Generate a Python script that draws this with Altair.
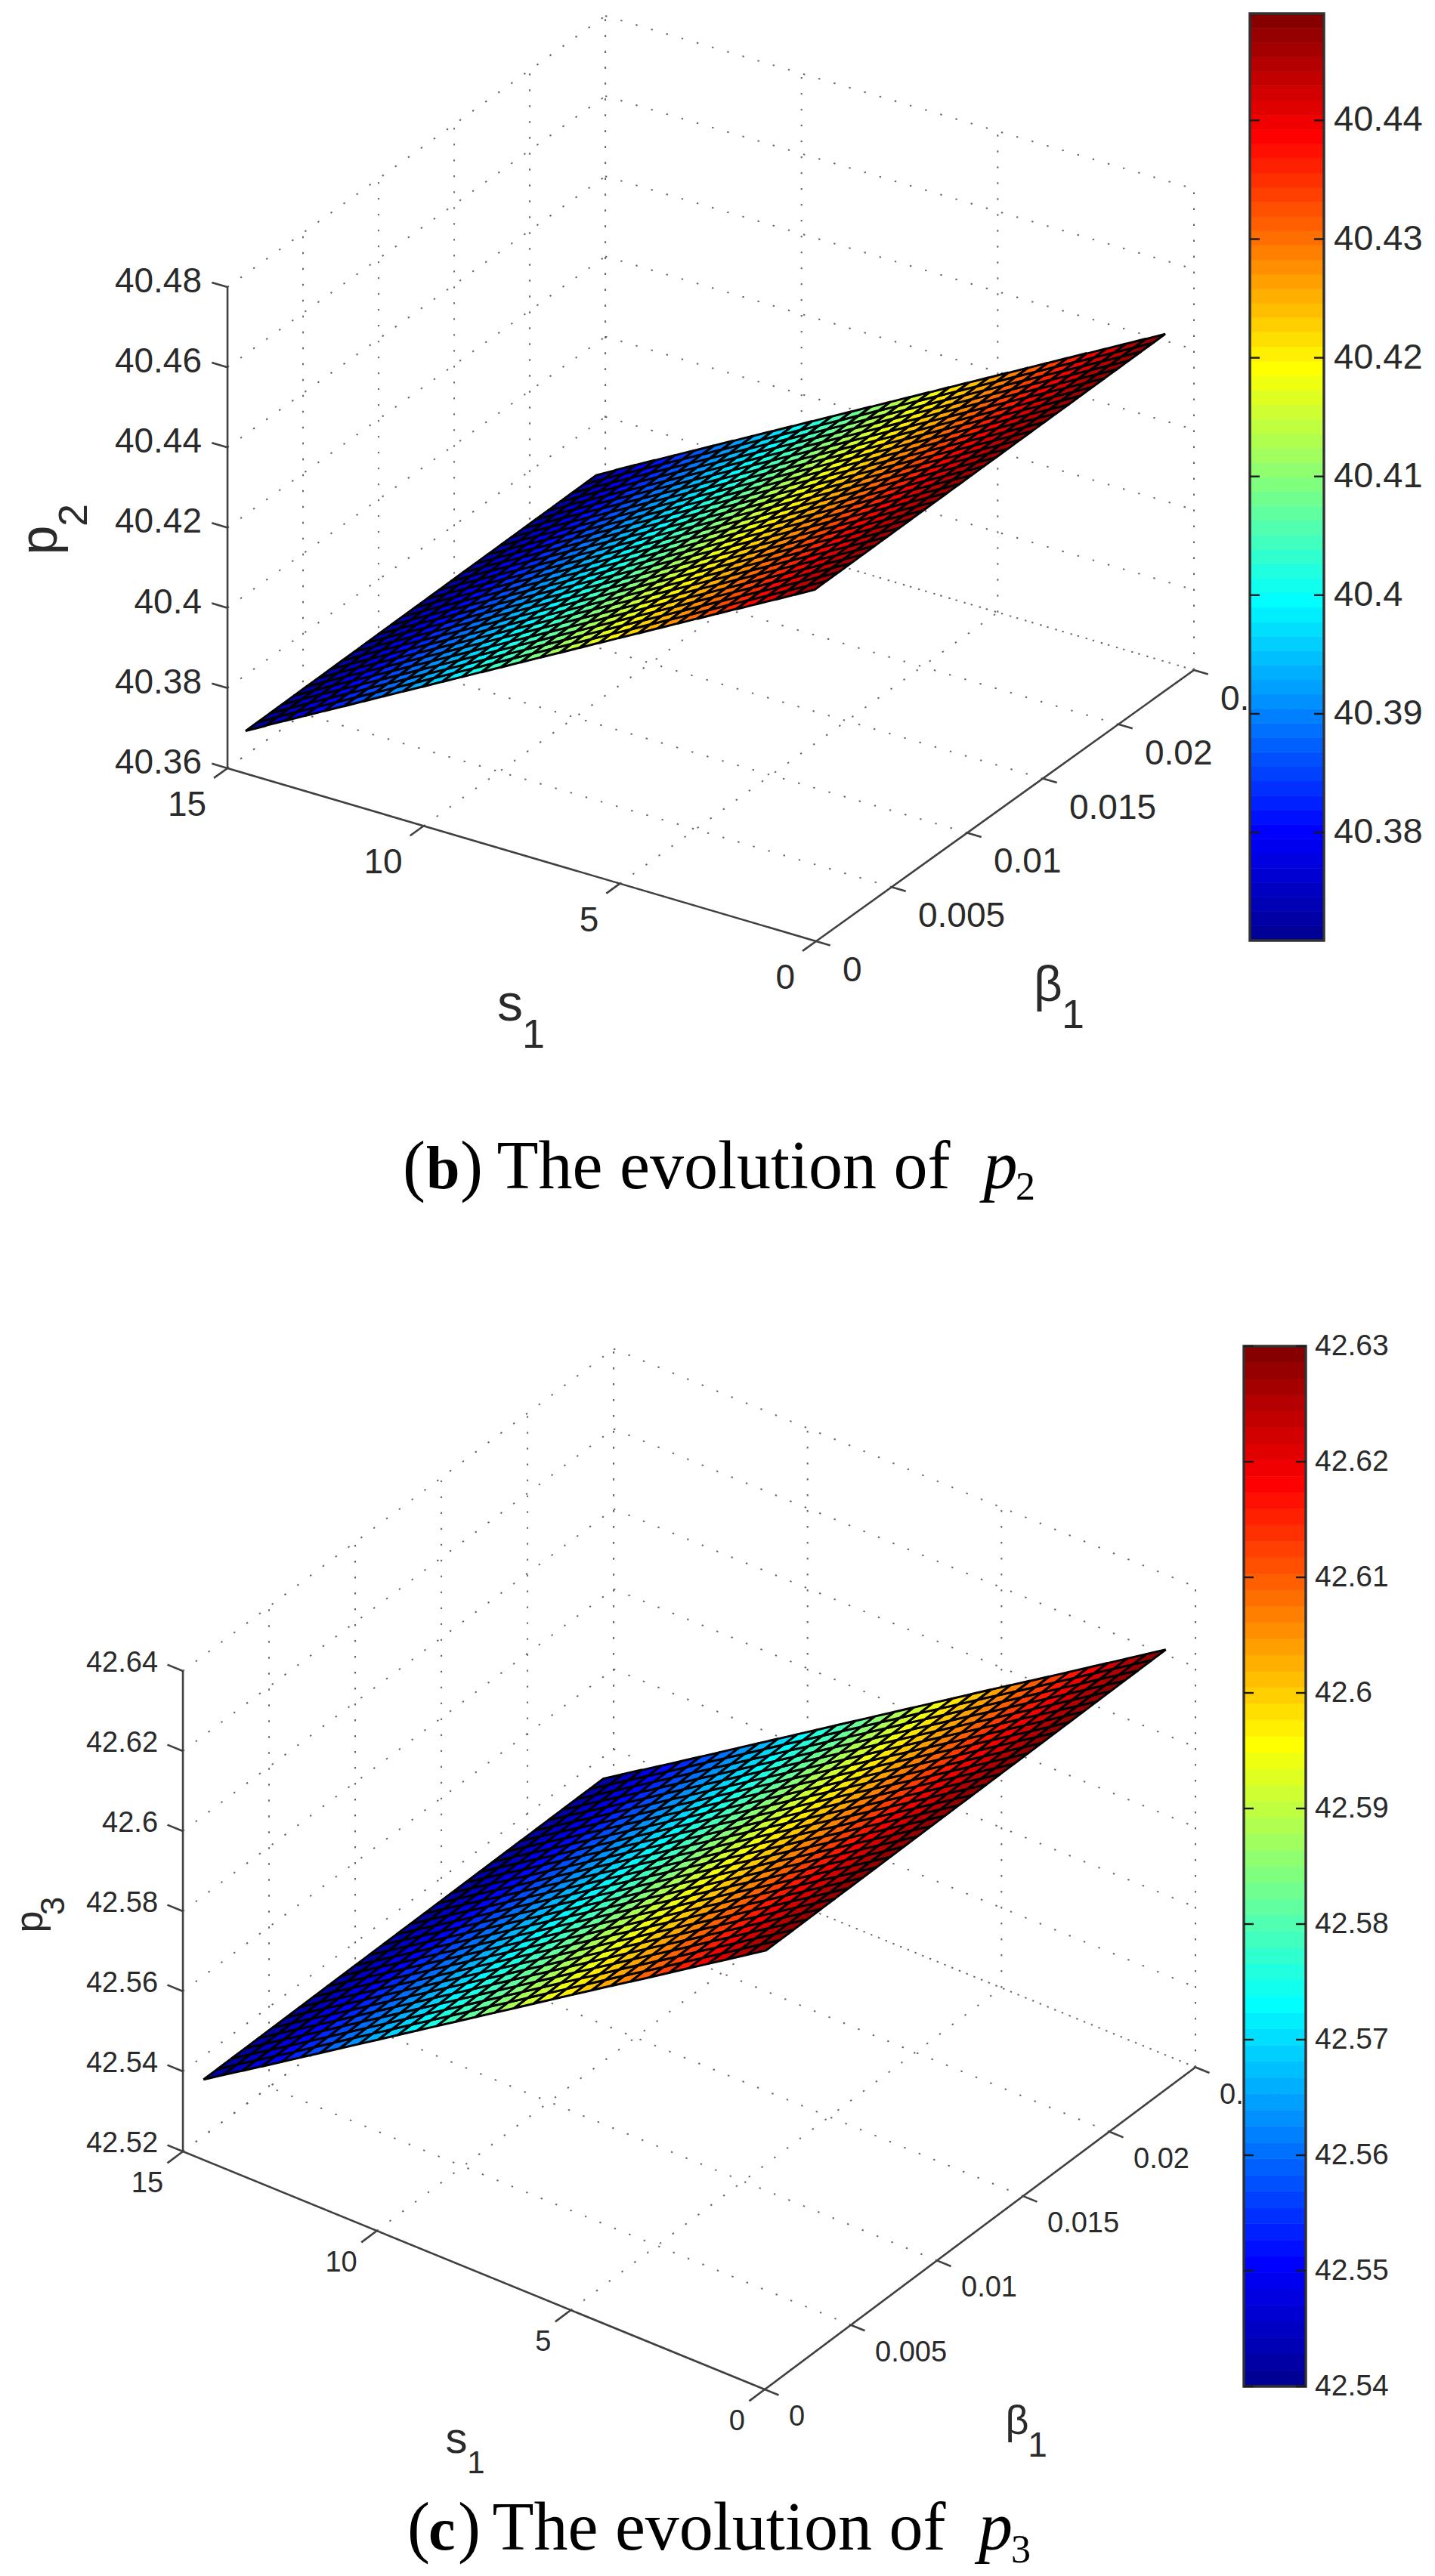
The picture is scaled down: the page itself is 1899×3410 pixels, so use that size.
import altair as alt
import pandas as pd

# ---------- values ----------
s_grid = [0.5, 1.0, 1.5, 2.0, 2.5, 3.0, 3.5, 4.0, 4.5, 5.0, 5.5, 6.0, 6.5, 7.0, 7.5,
          8.0, 8.5, 9.0, 9.5, 10.0, 10.5, 11.0, 11.5, 12.0, 12.5, 13.0, 13.5, 14.0, 14.5, 15.0]
beta_grid = [0.0012, 0.0020, 0.0028, 0.0036, 0.0044, 0.0052, 0.0060, 0.0068, 0.0076, 0.0084,
             0.0092, 0.0100, 0.0108, 0.0116, 0.0124, 0.0132, 0.0140, 0.0148, 0.0156, 0.0164,
             0.0172, 0.0180, 0.0188, 0.0196, 0.0204, 0.0212, 0.0220, 0.0228, 0.0236, 0.0244]

p2_by_s = [40.4430, 40.4403, 40.4377, 40.4350, 40.4324, 40.4298, 40.4271, 40.4245, 40.4218, 40.4192,
           40.4165, 40.4139, 40.4112, 40.4086, 40.4059, 40.4033, 40.4006, 40.3980, 40.3953, 40.3927,
           40.3900, 40.3874, 40.3847, 40.3821, 40.3794, 40.3768, 40.3741, 40.3715, 40.3688, 40.3660]
p2_rise_by_beta = [0.0, 0.00003, 0.00007, 0.00010, 0.00014, 0.00017, 0.00021, 0.00024, 0.00028, 0.00031,
                   0.00034, 0.00038, 0.00041, 0.00045, 0.00048, 0.00052, 0.00055, 0.00059, 0.00062, 0.00066,
                   0.00069, 0.00072, 0.00076, 0.00079, 0.00083, 0.00086, 0.00090, 0.00093, 0.00097, 0.00100]
p3_by_s = [42.6238, 42.6207, 42.6176, 42.6145, 42.6114, 42.6083, 42.6052, 42.6021, 42.5991, 42.5960,
           42.5929, 42.5898, 42.5867, 42.5836, 42.5805, 42.5774, 42.5743, 42.5712, 42.5681, 42.5650,
           42.5619, 42.5588, 42.5557, 42.5526, 42.5495, 42.5464, 42.5433, 42.5403, 42.5372, 42.5341]
p3_rise_by_beta = [0.0, 0.00002, 0.00003, 0.00005, 0.00006, 0.00008, 0.00009, 0.00011, 0.00012, 0.00014,
                   0.00016, 0.00017, 0.00019, 0.00020, 0.00022, 0.00023, 0.00025, 0.00026, 0.00028, 0.00029,
                   0.00031, 0.00033, 0.00034, 0.00036, 0.00037, 0.00039, 0.00040, 0.00042, 0.00043, 0.00045]

s_ticks = [0, 5, 10, 15]
s_tick_labels = ["0", "5", "10", "15"]
beta_ticks = [0, 0.005, 0.01, 0.015, 0.02, 0.025]
beta_tick_labels = ["0", "0.005", "0.01", "0.015", "0.02", "0.025"]
p2_ticks = [40.36, 40.38, 40.40, 40.42, 40.44, 40.46, 40.48]
p2_tick_labels = ["40.36", "40.38", "40.4", "40.42", "40.44", "40.46", "40.48"]
p3_ticks = [42.52, 42.54, 42.56, 42.58, 42.60, 42.62, 42.64]
p3_tick_labels = ["42.52", "42.54", "42.56", "42.58", "42.6", "42.62", "42.64"]
cb2_ticks = [40.38, 40.39, 40.40, 40.41, 40.42, 40.43, 40.44]
cb2_labels = ["40.38", "40.39", "40.4", "40.41", "40.42", "40.43", "40.44"]
cb3_ticks = [42.54, 42.55, 42.56, 42.57, 42.58, 42.59, 42.60, 42.61, 42.62, 42.63]
cb3_labels = ["42.54", "42.55", "42.56", "42.57", "42.58", "42.59", "42.6", "42.61", "42.62", "42.63"]
colorbar_bands = list(range(64))
jet_stops = [0, 0.117, 0.367, 0.617, 0.867, 1]
jet_colors = ["#00008f", "#0000ff", "#00ffff", "#ffff00", "#ff0000", "#800000"]

# ---------- view set-up of each panel (screen pixels) ----------
panel_b = dict(
    o=(1080, 1246), s_vec=(-51.93, -15.27), b_vec=(20000, -14360), z_per=-5308, zmin=40.36, zmax=40.48,
    p=p2_by_s, rise=p2_rise_by_beta, ptick=p2_ticks, ptl=p2_tick_labels,
    surf=(40.366, 40.4445), font=46, cellw=3.0,
    zd=(-34, -7), sd=(-28, 49), bd=(35, 39),
    cb=dict(x0=1654, x1=1752, top=18, bottom=1245, vtop=40.449, vbot=40.3709, ticks=cb2_ticks, labels=cb2_labels,
            lx=1765, font=47, tick=13),
    ylab=dict(font=70, x=75, y=715, sub="2", subfont=54, subx=115, suby=682),
    slab=dict(font=68, x=675, y=1351, subfont=54, subx=706, suby=1387),
    blab=dict(font=66, x=1387, y=1325, subfont=54, subx=1420, suby=1361),
    cap=dict(x=533, bx=564, rx=609, tx=657.6, px=1301.5, sx=1344, y=1573, suby=1588, letter="b", sub="2"),
)
panel_c = dict(
    o=(1012, 3163), s_vec=(-51.33, -21.0), b_vec=(22800, -17060), z_per=-5300, zmin=42.52, zmax=42.64,
    p=p3_by_s, rise=p3_rise_by_beta, ptick=p3_ticks, ptl=p3_tick_labels,
    surf=(42.5341, 42.6242), font=38, cellw=3.0,
    zd=(-33, -10), sd=(-26, 43), bd=(32, 37),
    cb=dict(x0=1646, x1=1728, top=1782, bottom=3159, vtop=42.63, vbot=42.54, ticks=cb3_ticks, labels=cb3_labels,
            lx=1740, font=39, tick=13),
    ylab=dict(font=52, x=56, y=2544, sub="3", subfont=44, subx=85, suby=2523),
    slab=dict(font=58, x=604, y=3247, subfont=42, subx=630, suby=3274),
    blab=dict(font=54, x=1346, y=3222, subfont=46, subx=1373, suby=3252),
    cap=dict(x=539, bx=567, rx=606, tx=651.5, px=1295, sx=1338, y=3375, suby=3392, letter="c", sub="3"),
)

SANS = "Liberation Sans"
SERIF = "Liberation Serif"
INK = "#2a2a2a"
AXIS_INK = "#404040"
CHART_W, CHART_H = 1883, 3394
x_scale = alt.Scale(domain=[8, 8 + CHART_W], range=[0, CHART_W], nice=False, zero=False)
y_scale = alt.Scale(domain=[8, 8 + CHART_H], range=[0, CHART_H], nice=False, zero=False)
jet = alt.Scale(domain=jet_stops, range=jet_colors, interpolate="rgb")
X = alt.X("x:Q", scale=x_scale, axis=None)
Y = alt.Y("y:Q", scale=y_scale, axis=None)


def proj(P, s, b, z):
    return (P["o"][0] + s * P["s_vec"][0] + b * P["b_vec"][0],
            P["o"][1] + s * P["s_vec"][1] + b * P["b_vec"][1] + (z - P["zmin"]) * P["z_per"])


def seg(P, a, b):
    x, y = proj(P, *a)
    x2, y2 = proj(P, *b)
    return dict(x=x, y=y, x2=x2, y2=y2)


def rules(rows, color, width, **kw):
    return alt.Chart(pd.DataFrame(rows)).mark_rule(color=color, strokeWidth=width, **kw).encode(
        x=X, y=Y, x2="x2:Q", y2="y2:Q")


def texts(rows, **kw):
    return alt.Chart(pd.DataFrame(rows)).mark_text(**kw).encode(x=X, y=Y, text="label:N")


def one_text(label, x, y, **kw):
    return texts([dict(x=x, y=y, label=label)], **kw)


def panel(P):
    z0, z1 = P["zmin"], P["zmax"]
    layers = []

    # dotted box grid
    grid = []
    for z in P["ptick"]:
        grid.append(seg(P, (15, 0, z), (15, 0.025, z)))
        grid.append(seg(P, (15, 0.025, z), (0, 0.025, z)))
    for b in beta_ticks:
        grid.append(seg(P, (15, b, z0), (15, b, z1)))
        grid.append(seg(P, (0, b, z0), (15, b, z0)))
    for s in s_ticks:
        grid.append(seg(P, (s, 0.025, z0), (s, 0.025, z1)))
        grid.append(seg(P, (s, 0, z0), (s, 0.025, z0)))
    layers.append(rules(grid, "#666666", 2.0, strokeDash=[2.4, 18.6]))

    # axes and ticks
    axes = [seg(P, (15, 0, z0), (15, 0, z1)), seg(P, (15, 0, z0), (0, 0, z0)), seg(P, (0, 0, z0), (0, 0.025, z0))]
    for z in P["ptick"]:
        axes.append(seg(P, (15, 0, z), (15.4, 0, z)))
    for s in s_ticks:
        axes.append(seg(P, (s, 0, z0), (s, -0.0009, z0)))
    for b in beta_ticks:
        axes.append(seg(P, (0, b, z0), (-0.36, b, z0)))
    layers.append(rules(axes, AXIS_INK, 2.6))

    # tick labels
    z_rows = [dict(zip("xy", proj(P, 15, 0, z)), label=t) for z, t in zip(P["ptick"], P["ptl"])]
    s_rows = [dict(zip("xy", proj(P, s, 0, z0)), label=t) for s, t in zip(s_ticks, s_tick_labels)]
    b_rows = [dict(zip("xy", proj(P, 0, b, z0)), label=t) for b, t in zip(beta_ticks, beta_tick_labels)]
    common = dict(font=SANS, fontSize=P["font"], color=INK, baseline="middle")
    layers.append(texts(z_rows, align="right", dx=P["zd"][0], dy=P["zd"][1], **common))
    layers.append(texts(s_rows, align="right", dx=P["sd"][0], dy=P["sd"][1], **common))
    layers.append(texts(b_rows, align="left", dx=P["bd"][0], dy=P["bd"][1], **common))

    # surface
    cells = []
    pmin, pmax = P["surf"]
    for i in range(len(s_grid) - 1):
        for j in range(len(beta_grid) - 1):
            s = (s_grid[i] + s_grid[i + 1]) / 2
            b = (beta_grid[j] + beta_grid[j + 1]) / 2
            z = (P["p"][i] + P["p"][i + 1]) / 2 + (P["rise"][j] + P["rise"][j + 1]) / 2
            x, y = proj(P, s, b, z)
            cells.append(dict(x=x, y=y, frac=(z - pmin) / (pmax - pmin)))
    ds = s_grid[1] - s_grid[0]
    db = beta_grid[1] - beta_grid[0]
    dzs = P["p"][1] - P["p"][0]
    dzb = P["rise"][15] - P["rise"][14]
    e1 = (ds * P["s_vec"][0], ds * P["s_vec"][1] + dzs * P["z_per"])
    e2 = (db * P["b_vec"][0], db * P["b_vec"][1] + dzb * P["z_per"])
    corners = [(sa * e1[0] / 2 + sb * e2[0] / 2, sa * e1[1] / 2 + sb * e2[1] / 2)
               for sa, sb in [(-1, -1), (1, -1), (1, 1), (-1, 1)]]
    path = "M" + "L".join(f"{cx:.2f},{cy:.2f}" for cx, cy in corners) + "Z"
    layers.append(alt.Chart(pd.DataFrame(cells)).mark_point(
        shape=path, size=4, filled=True, opacity=1, stroke="black", strokeWidth=P["cellw"]
    ).encode(x=X, y=Y, color=alt.Color("frac:Q", scale=jet, legend=None)))

    # colour bar, drawn over the clipped 0.025 label
    cb = P["cb"]
    per = (cb["bottom"] - cb["top"]) / (cb["vtop"] - cb["vbot"])
    ypix = lambda v: cb["bottom"] - (v - cb["vbot"]) * per
    bands = []
    for k in colorbar_bands:
        f0, f1 = k / 64, (k + 1) / 64
        bands.append(dict(x=cb["x0"], x2=cb["x1"],
                          y=cb["bottom"] - f0 * (cb["bottom"] - cb["top"]),
                          y2=cb["bottom"] - f1 * (cb["bottom"] - cb["top"]),
                          frac=(f0 + f1) / 2))
    layers.append(alt.Chart(pd.DataFrame(bands)).mark_rect(strokeWidth=0.7).encode(
        x=X, x2="x2:Q", y=Y, y2="y2:Q",
        color=alt.Color("frac:Q", scale=jet, legend=None),
        stroke=alt.Stroke("frac:Q", scale=jet, legend=None)))
    layers.append(alt.Chart(pd.DataFrame([dict(x=cb["x0"], x2=cb["x1"], y=cb["top"], y2=cb["bottom"])])).mark_rect(
        fillOpacity=0, stroke="#303030", strokeWidth=3.4).encode(x=X, x2="x2:Q", y=Y, y2="y2:Q"))
    cb_ticks = []
    for v in cb["ticks"]:
        cb_ticks.append(dict(x=cb["x0"], x2=cb["x0"] + cb["tick"], y=ypix(v), y2=ypix(v)))
        cb_ticks.append(dict(x=cb["x1"], x2=cb["x1"] - cb["tick"], y=ypix(v), y2=ypix(v)))
    layers.append(rules(cb_ticks, "#1a1a1a", 2.4))
    layers.append(texts([dict(x=cb["lx"], y=ypix(v), label=t) for v, t in zip(cb["ticks"], cb["labels"])],
                        align="left", baseline="middle", font=SANS, fontSize=cb["font"], color=INK))

    # axis titles
    yl = P["ylab"]
    layers.append(one_text("p", yl["x"], yl["y"], angle=270, align="center", baseline="alphabetic",
                           font=SANS, fontSize=yl["font"], color=INK))
    layers.append(one_text(yl["sub"], yl["subx"], yl["suby"], angle=270, align="center", baseline="alphabetic",
                           font=SANS, fontSize=yl["subfont"], color=INK))
    for lab, ch in ((P["slab"], "s"), (P["blab"], "β")):
        layers.append(one_text(ch, lab["x"], lab["y"], align="center", baseline="alphabetic",
                               font=SANS, fontSize=lab["font"], color=INK))
        layers.append(one_text("1", lab["subx"], lab["suby"], align="center", baseline="alphabetic",
                               font=SANS, fontSize=lab["subfont"], color=INK))

    # caption
    c = P["cap"]
    serif = dict(font=SERIF, baseline="alphabetic", align="left", color="black")
    layers.append(one_text("(", c["x"], c["y"], fontSize=90, **serif))
    layers.append(one_text(c["letter"], c["bx"], c["y"], fontSize=80, fontWeight="bold", **serif))
    layers.append(one_text(")", c["rx"], c["y"], fontSize=90, **serif))
    layers.append(one_text("The evolution of", c["tx"], c["y"], fontSize=90, **serif))
    layers.append(one_text("p", c["px"], c["y"], fontSize=90, fontStyle="italic", **serif))
    layers.append(one_text(c["sub"], c["sx"], c["suby"], fontSize=52, **serif))
    return layers


chart = alt.layer(*(panel(panel_b) + panel(panel_c))).properties(
    width=CHART_W, height=CHART_H, padding=0, autosize="none"
).configure_view(strokeWidth=0)

chart.save("out.html", embed_options={"renderer": "svg", "actions": False})
